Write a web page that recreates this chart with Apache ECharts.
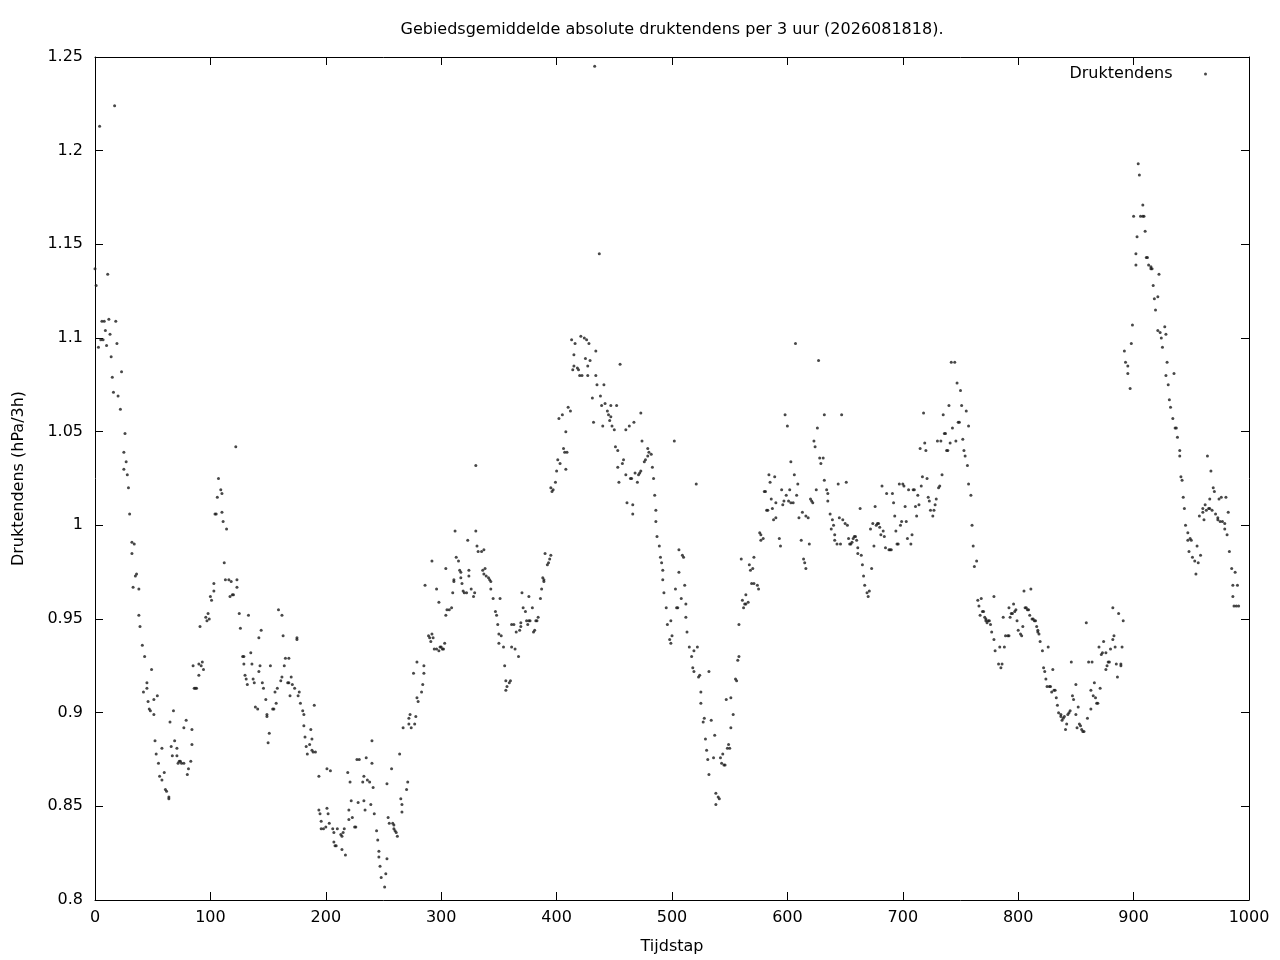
<!DOCTYPE html>
<html>
<head>
<meta charset="utf-8">
<script src="https://cdn.jsdelivr.net/npm/echarts@6/dist/echarts.min.js"></script>
<style>html,body{margin:0;padding:0;background:#fff}#c{width:1280px;height:960px}</style>
</head>
<body>
<div id="c"></div>
<script>
// [tijdstap, druktendens] pairs, per segment
const deel1 = [[0,1.137],[1,1.128],[3,1.095],[4,1.213],[5,1.099],[6,1.109],[7,1.099],[8,1.109],[9,1.104],[10,1.096],[11,1.134],[12,1.110],[13,1.102],[14,1.090],[15,1.079],[16,1.071],[17,1.224],[18,1.109],[19,1.097],[20,1.069],[22,1.062],[23,1.082],[25,1.039],[25,1.030],[26,1.049],[27,1.034],[28,1.027],[29,1.020],[30,1.006],[32,0.991],[34,0.990],[32,0.985],[36,0.974],[35,0.973],[33,0.967],[38,0.966],[38,0.952],[39,0.946],[41,0.936],[43,0.930],[49,0.923],[45,0.916],[45,0.913],[42,0.911],[46,0.906],[51,0.907],[54,0.909],[47,0.902],[48,0.901],[51,0.899],[68,0.901],[65,0.895],[79,0.896],[77,0.892],[84,0.891],[52,0.885],[69,0.885],[58,0.881],[66,0.882],[71,0.881],[84,0.883],[53,0.878],[67,0.877],[71,0.877],[73,0.874],[74,0.874],[72,0.873],[75,0.873],[77,0.873],[83,0.874],[55,0.873],[81,0.870],[56,0.866],[60,0.868],[80,0.867],[58,0.864],[61,0.859],[62,0.858],[64,0.854],[64,0.855],[122,1.042],[107,1.025],[109,1.019],[110,1.017],[106,1.015],[105,1.006],[104,1.006],[110,1.007],[111,1.002],[114,0.998],[112,0.980],[113,0.971],[116,0.971],[118,0.970],[117,0.962],[119,0.963],[120,0.963],[123,0.971],[123,0.967],[125,0.953],[126,0.945],[128,0.930],[129,0.930],[129,0.926],[103,0.969],[103,0.965],[100,0.962],[101,0.960],[98,0.953],[97,0.949],[96,0.951],[99,0.950],[91,0.946],[85,0.925],[90,0.926],[93,0.927],[92,0.925],[94,0.923],[90,0.920],[86,0.913],[88,0.913],[87,0.913]];
const deel2 = [[130,0.920],[131,0.918],[132,0.915],[133,0.952],[137,0.918],[138,0.916],[142,0.922],[145,0.916],[146,0.913],[135,0.932],[136,0.926],[143,0.925],[152,0.925],[165,0.929],[168,0.929],[164,0.925],[159,0.955],[162,0.952],[144,0.944],[142,0.940],[163,0.941],[175,0.940],[175,0.939],[162,0.919],[161,0.917],[158,0.913],[156,0.911],[167,0.916],[168,0.916],[170,0.919],[171,0.915],[173,0.913],[177,0.911],[169,0.909],[176,0.909],[139,0.903],[141,0.902],[148,0.907],[157,0.905],[154,0.902],[155,0.902],[178,0.905],[149,0.899],[149,0.898],[180,0.901],[181,0.899],[190,0.904],[151,0.889],[150,0.884],[181,0.893],[187,0.891],[182,0.887],[188,0.886],[186,0.883],[183,0.882],[188,0.880],[189,0.879],[191,0.879],[184,0.878],[194,0.866],[201,0.870],[204,0.869],[219,0.868],[221,0.863],[240,0.885],[227,0.875],[229,0.875],[235,0.876],[240,0.873],[233,0.866],[236,0.864],[238,0.863],[253,0.862],[241,0.860],[194,0.848],[201,0.849],[195,0.846],[202,0.846],[196,0.842],[203,0.841],[196,0.838],[198,0.838],[200,0.839],[206,0.838],[207,0.836],[210,0.838],[207,0.831],[208,0.829],[209,0.829],[213,0.835],[214,0.834],[215,0.836],[216,0.838],[214,0.827],[217,0.824],[220,0.848],[220,0.843],[222,0.853],[223,0.844],[225,0.839],[226,0.839],[228,0.852],[232,0.863],[233,0.853],[234,0.848],[239,0.851],[242,0.846],[244,0.837],[245,0.832],[246,0.826],[246,0.823],[247,0.818],[248,0.812],[251,0.807],[252,0.814],[253,0.822],[254,0.844],[255,0.841]];
const deel3 = [[330,1.032],[312,0.997],[330,0.997],[323,0.992],[331,0.989],[332,0.986],[335,0.986],[337,0.987],[292,0.981],[313,0.983],[315,0.981],[304,0.977],[316,0.976],[317,0.975],[324,0.976],[336,0.976],[338,0.977],[337,0.974],[339,0.973],[341,0.972],[342,0.971],[343,0.970],[286,0.968],[296,0.966],[311,0.971],[311,0.970],[317,0.972],[324,0.973],[318,0.969],[319,0.965],[320,0.964],[322,0.964],[326,0.966],[329,0.964],[328,0.962],[310,0.964],[343,0.966],[345,0.961],[351,0.961],[298,0.959],[309,0.956],[305,0.955],[307,0.955],[304,0.952],[347,0.954],[348,0.952],[349,0.947],[361,0.947],[363,0.947],[370,0.964],[371,0.956],[373,0.954],[376,0.962],[379,0.956],[374,0.949],[376,0.949],[377,0.949],[375,0.947],[369,0.948],[369,0.946],[368,0.944],[365,0.943],[380,0.943],[381,0.944],[382,0.949],[350,0.942],[352,0.941],[350,0.937],[354,0.935],[361,0.935],[364,0.934],[367,0.930],[355,0.925],[356,0.917],[360,0.917],[359,0.916],[357,0.914],[356,0.912],[289,0.941],[290,0.940],[292,0.942],[291,0.938],[293,0.940],[294,0.934],[296,0.934],[298,0.933],[299,0.935],[300,0.935],[301,0.934],[302,0.934],[303,0.937],[279,0.927],[285,0.925],[276,0.921],[285,0.921],[284,0.915],[283,0.911],[279,0.908],[280,0.906],[278,0.898],[273,0.899],[272,0.897],[277,0.894],[272,0.894],[274,0.892],[267,0.892],[264,0.878],[257,0.870],[271,0.863],[270,0.859],[265,0.854],[266,0.851],[266,0.847],[258,0.841],[259,0.840],[260,0.837],[259,0.838],[261,0.836],[262,0.834]];
const deel4 = [[433,1.245],[437,1.145],[421,1.101],[413,1.099],[424,1.100],[426,1.099],[416,1.097],[428,1.097],[434,1.093],[415,1.091],[425,1.089],[429,1.088],[455,1.086],[427,1.085],[415,1.085],[418,1.084],[414,1.083],[419,1.083],[420,1.080],[422,1.080],[427,1.080],[434,1.080],[435,1.075],[441,1.075],[431,1.068],[438,1.069],[439,1.064],[442,1.065],[447,1.064],[452,1.064],[444,1.061],[445,1.059],[447,1.058],[446,1.056],[432,1.055],[440,1.053],[448,1.053],[450,1.051],[410,1.063],[412,1.061],[402,1.057],[405,1.059],[408,1.050],[473,1.060],[467,1.055],[463,1.053],[460,1.051],[474,1.045],[502,1.045],[451,1.042],[453,1.040],[406,1.041],[407,1.039],[409,1.039],[479,1.041],[480,1.039],[482,1.038],[479,1.037],[477,1.035],[476,1.034],[458,1.035],[457,1.033],[453,1.031],[401,1.035],[403,1.033],[400,1.029],[408,1.030],[483,1.031],[484,1.025],[460,1.027],[464,1.025],[465,1.025],[468,1.028],[471,1.027],[472,1.028],[473,1.029],[454,1.023],[470,1.023],[399,1.023],[395,1.020],[397,1.019],[396,1.018],[485,1.016],[461,1.012],[466,1.011],[466,1.006],[486,1.008],[486,1.002],[487,0.994],[489,0.989],[490,0.983],[491,0.980],[492,0.976],[492,0.971],[493,0.964],[495,0.956],[496,0.947],[498,0.939],[499,0.937],[500,0.941],[499,0.949],[390,0.985],[395,0.984],[394,0.982],[393,0.980],[392,0.979],[388,0.972],[389,0.971],[389,0.970],[387,0.966],[386,0.961],[383,0.949],[384,0.951]];
const deel5 = [[607,1.097],[627,1.088],[598,1.059],[600,1.053],[626,1.052],[623,1.045],[624,1.042],[628,1.036],[631,1.036],[629,1.033],[603,1.034],[606,1.027],[609,1.022],[625,1.019],[632,1.024],[632,1.059],[584,1.027],[589,1.026],[585,1.023],[580,1.018],[581,1.018],[595,1.019],[602,1.019],[599,1.016],[608,1.016],[586,1.014],[597,1.013],[601,1.013],[605,1.012],[603,1.012],[590,1.012],[596,1.011],[620,1.014],[621,1.013],[622,1.012],[587,1.009],[582,1.008],[583,1.008],[613,1.007],[590,1.004],[588,1.003],[610,1.004],[616,1.005],[618,1.004],[576,0.996],[577,0.995],[579,0.993],[577,0.992],[593,0.993],[594,0.989],[612,0.992],[619,0.990],[614,0.982],[615,0.980],[616,0.977],[560,0.982],[571,0.983],[567,0.979],[570,0.977],[568,0.976],[569,0.969],[571,0.969],[574,0.968],[575,0.966],[564,0.963],[561,0.960],[563,0.958],[564,0.958],[566,0.959],[562,0.956],[558,0.947],[558,0.930],[557,0.928],[555,0.918],[556,0.917],[547,0.907],[551,0.908],[553,0.899],[551,0.892],[534,0.896],[537,0.888],[549,0.883],[550,0.881],[548,0.881],[544,0.878],[542,0.876],[543,0.873],[545,0.872],[546,0.872],[536,0.876],[532,0.867],[538,0.857],[540,0.855],[541,0.854],[538,0.851],[521,1.022],[506,0.987],[509,0.984],[510,0.983],[506,0.975],[503,0.966],[511,0.968],[508,0.961],[512,0.958],[505,0.956],[504,0.956],[512,0.951],[513,0.943],[515,0.935],[522,0.935],[519,0.933],[517,0.930],[518,0.924],[519,0.922],[523,0.919],[524,0.920],[532,0.922],[525,0.911],[525,0.905],[528,0.897],[527,0.895],[529,0.886],[530,0.880],[531,0.875]];
const deel6 = [[742,1.087],[745,1.087],[747,1.076],[750,1.072],[740,1.064],[751,1.064],[755,1.061],[647,1.059],[718,1.060],[735,1.059],[749,1.055],[748,1.055],[757,1.053],[743,1.052],[736,1.049],[737,1.049],[719,1.044],[730,1.045],[733,1.045],[746,1.045],[752,1.046],[741,1.044],[715,1.041],[720,1.040],[738,1.040],[739,1.040],[753,1.040],[754,1.037],[756,1.032],[734,1.027],[717,1.026],[721,1.025],[716,1.021],[732,1.021],[731,1.020],[757,1.022],[634,1.019],[635,1.017],[635,1.013],[644,1.022],[651,1.023],[682,1.021],[697,1.022],[700,1.022],[701,1.021],[705,1.019],[709,1.019],[710,1.019],[686,1.017],[691,1.017],[713,1.016],[722,1.015],[723,1.013],[729,1.014],[692,1.012],[714,1.011],[711,1.010],[702,1.010],[728,1.011],[676,1.010],[663,1.009],[724,1.008],[727,1.008],[726,1.005],[712,1.005],[693,1.005],[637,1.006],[639,1.003],[645,1.004],[648,1.003],[640,1.000],[638,0.998],[650,1.001],[652,1.000],[674,1.001],[678,1.001],[679,1.001],[677,1.000],[680,0.999],[672,0.998],[683,0.997],[699,1.002],[698,1.000],[703,1.002],[694,0.997],[641,0.995],[641,0.992],[643,0.990],[646,0.990],[653,0.993],[655,0.990],[654,0.990],[656,0.991],[658,0.994],[657,0.993],[659,0.994],[660,0.992],[681,0.995],[684,0.994],[675,0.989],[685,0.988],[688,0.987],[689,0.987],[690,0.987],[695,0.990],[696,0.990],[704,0.993],[707,0.990],[708,0.995],[661,0.988],[661,0.985],[664,0.984],[665,0.979],[673,0.977],[666,0.973],[667,0.968],[669,0.964],[670,0.962],[671,0.965]];
const deel7 = [[759,1.016],[760,1.000],[761,0.989],[764,0.981],[762,0.978],[765,0.960],[768,0.961],[766,0.957],[767,0.952],[769,0.954],[770,0.954],[771,0.951],[772,0.950],[772,0.949],[773,0.948],[774,0.949],[775,0.949],[776,0.947],[779,0.962],[777,0.943],[779,0.939],[780,0.933],[784,0.935],[783,0.926],[786,0.926],[785,0.924],[787,0.951],[788,0.935],[789,0.941],[791,0.941],[792,0.941],[792,0.956],[793,0.951],[794,0.953],[795,0.953],[796,0.958],[797,0.954],[798,0.955],[799,0.949],[800,0.944],[802,0.942],[803,0.941],[804,0.946],[805,0.965],[811,0.966],[806,0.956],[807,0.956],[808,0.955],[809,0.955],[810,0.952],[812,0.950],[813,0.950],[814,0.949],[815,0.949],[816,0.946],[817,0.944],[817,0.943],[818,0.942],[819,0.938],[821,0.933],[826,0.935],[822,0.924],[823,0.922],[830,0.923],[824,0.918],[825,0.914],[827,0.914],[828,0.914],[829,0.911],[831,0.912],[832,0.912],[833,0.908],[834,0.904],[835,0.900],[837,0.899],[837,0.898],[838,0.896],[839,0.897],[840,0.898],[841,0.891],[842,0.894],[843,0.899],[844,0.900],[845,0.901],[846,0.927],[847,0.909],[848,0.907],[850,0.915],[850,0.899],[851,0.892],[852,0.903],[853,0.894],[854,0.893],[855,0.891],[856,0.890],[857,0.890],[859,0.948],[860,0.897],[861,0.927],[863,0.902],[863,0.912],[864,0.927],[865,0.909],[866,0.916],[867,0.908],[868,0.905],[869,0.905],[870,0.935],[871,0.913],[872,0.931],[873,0.932],[874,0.938],[876,0.923],[876,0.932],[877,0.925],[878,0.927],[879,0.927],[880,0.934],[882,0.956],[882,0.939],[883,0.941],[884,0.935],[885,0.926],[886,0.919],[889,0.925],[889,0.926],[890,0.935],[891,0.949]];
const deel8 = [[887,0.953],[904,1.193],[905,1.187],[908,1.171],[900,1.165],[906,1.165],[908,1.165],[909,1.165],[910,1.157],[903,1.154],[902,1.145],[902,1.139],[911,1.143],[912,1.143],[913,1.139],[915,1.138],[915,1.137],[916,1.137],[922,1.134],[917,1.128],[921,1.122],[918,1.121],[919,1.115],[899,1.107],[921,1.104],[923,1.103],[927,1.106],[928,1.102],[924,1.100],[898,1.097],[925,1.095],[892,1.093],[893,1.087],[895,1.085],[895,1.081],[897,1.073],[929,1.087],[928,1.080],[935,1.081],[930,1.075],[931,1.067],[932,1.063],[934,1.057],[936,1.052],[937,1.052],[938,1.047],[940,1.040],[940,1.037],[941,1.026],[942,1.024],[943,1.015],[944,1.009],[945,1.000],[947,0.996],[947,0.992],[948,0.986],[949,0.993],[950,0.992],[951,0.983],[953,0.981],[954,0.974],[955,0.989],[956,0.980],[957,1.005],[958,0.984],[960,1.007],[960,1.009],[961,1.003],[962,1.011],[963,1.008],[964,1.037],[965,1.009],[966,1.014],[966,1.009],[967,1.029],[968,1.008],[969,1.020],[970,1.018],[971,1.006],[973,1.004],[973,1.003],[974,1.014],[975,1.002],[976,1.015],[977,1.002],[979,1.001],[979,0.998],[980,1.015],[981,0.995],[982,1.007],[983,0.986],[985,0.977],[986,0.968],[988,0.975],[986,0.962],[990,0.968],[987,0.957],[989,0.957],[991,0.957]];

const xTicks = [0, 1000, 100];
const yTicks = [0.8, 1.25, 0.05];

const punten = [].concat(deel1, deel2, deel3, deel4, deel5, deel6, deel7, deel8);

const FONT = 'DejaVu Sans';
const FS = 16;
const chart = echarts.init(document.getElementById('c'), null, {renderer: 'canvas'});
const fmtY = v => String(parseFloat(v.toFixed(2)));
const fmtX = v => String(Math.round(v));
const baseX = {
  type: 'value', min: xTicks[0], max: xTicks[1], interval: xTicks[2],
  axisLine: {show: true, onZero: false, lineStyle: {color: '#000', width: 1}},
  axisTick: {show: true, inside: true, length: 8, lineStyle: {color: '#000'}},
  splitLine: {show: false}
};
const baseY = {
  type: 'value', min: yTicks[0], max: yTicks[1], interval: yTicks[2],
  axisLine: {show: true, onZero: false, lineStyle: {color: '#000', width: 1}},
  axisTick: {show: true, inside: true, length: 8, lineStyle: {color: '#000'}},
  splitLine: {show: false}
};
chart.setOption({
  animation: false,
  backgroundColor: '#fff',
  textStyle: {fontFamily: FONT},
  title: {
    text: 'Gebiedsgemiddelde absolute druktendens per 3 uur (2026081818).',
    left: 672, top: 22, textAlign: 'center', padding: 0,
    textStyle: {fontFamily: FONT, fontSize: FS, fontWeight: 'normal', color: '#000'}
  },
  legend: {
    data: ['Druktendens'],
    right: 73, top: 66, padding: 0, align: 'right',
    itemWidth: 56, itemHeight: 3, icon: 'circle',
    textStyle: {fontFamily: FONT, fontSize: FS, color: '#000'}
  },
  grid: {left: 95, right: 31, top: 57, bottom: 60, containLabel: false},
  xAxis: [
    Object.assign({}, baseX, {
      position: 'bottom', name: 'Tijdstap', nameLocation: 'middle', nameGap: 39,
      nameTextStyle: {fontFamily: FONT, fontSize: FS, color: '#000'},
      axisLabel: {show: true, margin: 10, color: '#000', fontFamily: FONT, fontSize: FS, formatter: fmtX}
    }),
    Object.assign({}, baseX, {position: 'top', axisLabel: {show: false}})
  ],
  yAxis: [
    Object.assign({}, baseY, {
      position: 'left', name: 'Druktendens (hPa/3h)', nameLocation: 'middle', nameGap: 68,
      nameTextStyle: {fontFamily: FONT, fontSize: FS, color: '#000'},
      axisLabel: {show: true, margin: 12, color: '#000', fontFamily: FONT, fontSize: FS, formatter: fmtY}
    }),
    Object.assign({}, baseY, {position: 'right', axisLabel: {show: false}})
  ],
  series: [{
    name: 'Druktendens', type: 'scatter', xAxisIndex: 0, yAxisIndex: 0,
    symbol: 'circle', symbolSize: 3, silent: true,
    itemStyle: {color: '#1a1a1a'},
    data: punten
  }]
});
</script>
</body>
</html>
